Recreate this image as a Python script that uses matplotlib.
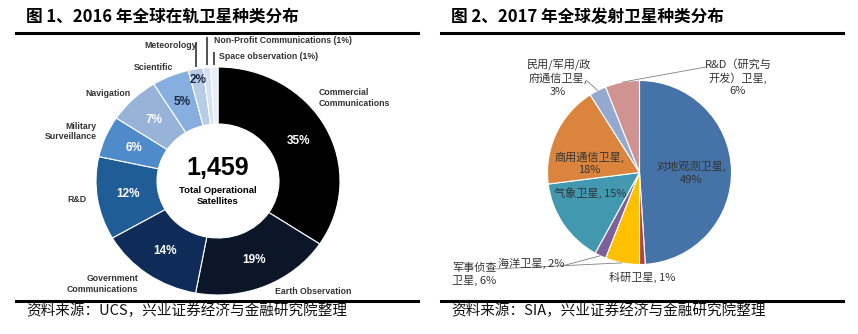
import numpy as np
import matplotlib
matplotlib.use('Agg')
import matplotlib.pyplot as plt
from matplotlib import font_manager
from matplotlib.lines import Line2D

W, H = 858, 334
plt.rcParams['font.family'] = ['Noto Sans CJK SC', 'DejaVu Sans']

names = {f.name for f in font_manager.fontManager.ttflist}
narrow = 'Liberation Sans Narrow' if 'Liberation Sans Narrow' in names else 'Liberation Sans'

# ---- data: figure 1 (UCS 2016, in orbit)
ucs_labels = ['Commercial\nCommunications', 'Earth Observation', 'Government\nCommunications',
              'R&D', 'Military\nSurveillance', 'Navigation', 'Scientific', 'Meteorology',
              'Non-Profit Communications (1%)', 'Space observation (1%)']
ucs_share = [35, 19, 14, 12, 6, 7, 5, 2, 1, 1]
ucs_colors = ['#000000', '#0b1628', '#0e2c57', '#205c96', '#4f8bcb',
              '#98b3d8', '#86afe0', '#b8cce6', '#d4e1f1', '#e8eef7']
ucs_total = '1,459'

# ---- data: figure 2 (SIA 2017, launched)
sia_labels = ['对地观测卫星,\n', '科研卫星, ', '军事侦查\n卫星, ', '海洋卫星, ', '气象卫星, ',
              '商用通信卫星,\n', '民用/军用/政\n府通信卫星,\n', 'R&D（研究与\n开发）卫星,\n']
sia_share = [49, 1, 6, 2, 15, 18, 3, 6]
sia_colors = ['#4572a7', '#aa4643', '#ffc000', '#7d5f9b', '#4198af',
              '#db843d', '#93a9cf', '#d19392']


def fx(x):
    return x / W


def fy(y):
    return 1 - y / H


fig = plt.figure(figsize=(W / 100, H / 100), dpi=100)
fig.patch.set_facecolor('white')

# titles, rules, sources
for x0, x1, tx, title, src in [
        (16, 418, 26, '图 1、2016 年全球在轨卫星种类分布', '资料来源：UCS，兴业证券经济与金融研究院整理'),
        (441, 843, 451, '图 2、2017 年全球发射卫星种类分布', '资料来源：SIA，兴业证券经济与金融研究院整理')]:
    fig.text(fx(tx), fy(17), title, fontsize=12, fontweight='bold', va='center', ha='left')
    fig.add_artist(Line2D([fx(x0), fx(x1)], [fy(33)] * 2, lw=2.2, color='black'))
    fig.add_artist(Line2D([fx(x0), fx(x1)], [fy(300.5)] * 2, lw=2.2, color='black'))
    fig.text(fx(tx), fy(311), src, fontsize=10.5, va='center', ha='left', color='#111111')

# ---- left donut
ax1 = fig.add_axes([fx(96), fy(295), 244 / W, 228 / H])
pct = [f'{v}%' if v >= 2 else '' for v in ucs_share]
wedges, texts = ax1.pie(ucs_share, colors=ucs_colors, startangle=90, counterclock=False,
                        labels=pct, labeldistance=0.75,
                        wedgeprops=dict(width=0.5, edgecolor='white', linewidth=0.8))
ax1.set_aspect('auto')
ax1.set_xlim(-1, 1)
ax1.set_ylim(-1, 1)
for i, t in enumerate(texts):
    t.set_fontfamily(narrow)
    t.set_fontweight('bold')
    t.set_fontsize(8.5)
    t.set_ha('center')
    t.set_va('center')
    t.set_color('white' if ucs_share[i] >= 6 else '#1c2a48')
    if ucs_share[i] == 2:
        th = np.deg2rad((wedges[i].theta1 + wedges[i].theta2) / 2)
        t.set_position((0.9 * np.cos(th), 0.9 * np.sin(th)))

ax1.text(0, 0.11, ucs_total, fontsize=18, fontweight='bold', family=narrow,
         ha='center', va='center')
ax1.text(0, -0.13, 'Total Operational\nSatellites', fontsize=6.8, fontweight='bold',
         family=narrow, ha='center', va='center', linespacing=1.2)

lab_kw = dict(fontsize=6.3, fontweight='bold', family=narrow, color='#333333',
              va='center', linespacing=1.2)
out_pos = [(319, 98, 'left'), (313, 292, 'center'), (138, 284, 'right'), (77, 199, 'center'),
           (97, 131.5, 'right'), (108, 94, 'center'), (153, 68, 'center'), (197, 45, 'right'),
           (214, 40.5, 'left'), (219, 56.5, 'left')]
for lab, (px, py, ha) in zip(ucs_labels, out_pos):
    fig.text(fx(px), fy(py), lab, ha=ha, **lab_kw)

# vertical leaders for the small slices
for i, top in zip([7, 8, 9], [42, 37, 52]):
    th = np.deg2rad((wedges[i].theta1 + wedges[i].theta2) / 2)
    x = np.cos(th)
    y_top = 1 - (top - 67) / 114
    ax1.plot([x, x], [np.sin(th) + 0.02, y_top], color='#222222', lw=1.1,
             clip_on=False, solid_capstyle='butt')

# ---- right pie
ax2 = fig.add_axes([fx(547.5), fy(264.5), 184 / W, 184 / H])
w2, _ = ax2.pie(sia_share, colors=sia_colors, startangle=90, counterclock=False,
                wedgeprops=dict(edgecolor='white', linewidth=0.8))
ax2.set_aspect('auto')
ax2.set_xlim(-1, 1)
ax2.set_ylim(-1, 1)

txt_pos = [(691.5, 173, 'center'), (642, 277, 'center'), (452, 274.5, 'left'),
           (498, 263, 'left'), (590, 193, 'center'), (589, 163.5, 'center'),
           (558, 77.5, 'center'), (738, 77.5, 'center')]
for lab, v, (px, py, ha) in zip(sia_labels, sia_share, txt_pos):
    fig.text(fx(px), fy(py), f'{lab}{v}%', ha=ha, va='center', fontsize=8,
             color='#333333', linespacing=1.3, multialignment='center' if ha == 'center' else 'left')

leaders = {7: (706, 67), 6: (586, 80), 3: (562, 266), 2: (494, 269)}
for i, (px, py) in leaders.items():
    th = np.deg2rad((w2[i].theta1 + w2[i].theta2) / 2)
    ax2.annotate('', xy=(np.cos(th), np.sin(th)), xycoords='data',
                 xytext=(px, H - py), textcoords='figure pixels',
                 arrowprops=dict(arrowstyle='-', color='#808080', lw=0.6,
                                 shrinkA=0, shrinkB=0))

fig.savefig('out.png', dpi=100)
